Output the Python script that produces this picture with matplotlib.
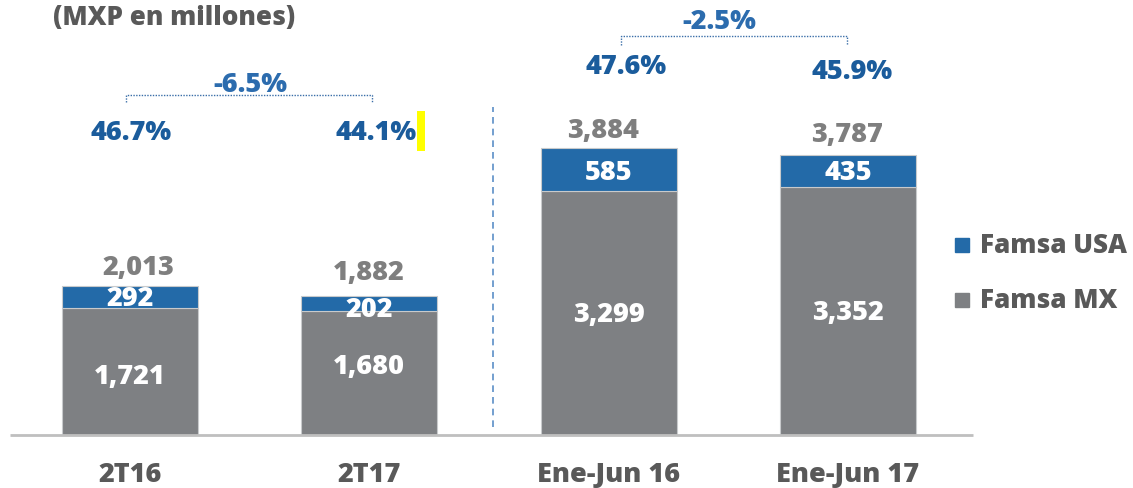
import matplotlib
matplotlib.use("Agg")
import matplotlib.pyplot as plt
from matplotlib.patches import Rectangle

plt.rcParams['font.family'] = ['Open Sans', 'DejaVu Sans']
plt.rcParams['font.weight'] = 'bold'

categories = ["2T16", "2T17", "Ene-Jun 16", "Ene-Jun 17"]
famsa_mx = [1721, 1680, 3299, 3352]
famsa_usa = [292, 202, 585, 435]
totals = [2013, 1882, 3884, 3787]
shares = ["46.7%", "44.1%", "47.6%", "45.9%"]
changes = ["-6.5%", "-2.5%"]
title = "(MXP en millones)"

BLUE = "#236AA8"
GRAY = "#7E8083"
PCT = "#1B5C9C"
CHG = "#2C6CAE"
TXT = "#595959"
TOT = "#7F7F7F"
WGT = 800

W, H = 1133, 489
fig = plt.figure(figsize=(W / 100, H / 100), dpi=100)
ax = fig.add_axes([0, 0, 1, 1])

sp = 239.3
x0 = 130 / sp
xs = [i for i in range(len(categories))]
ax.set_xlim(-x0, (W - 130) / sp)
upp = 13.53  # data units per pixel
ax.set_ylim(-(H - 436) * upp, 436 * upp)
ax.axis('off')

bw = 136 / sp
ax.bar(xs, famsa_mx, width=bw, color=GRAY, edgecolor="#C8CACC", linewidth=0.8, zorder=2)
ax.bar(xs, famsa_usa, width=bw, bottom=famsa_mx, color=BLUE, edgecolor="#C8CACC", linewidth=0.8, zorder=2)

# baseline
ax.plot([(10 - 130) / sp, (973 - 130) / sp], [0, 0], color="#BFBFBF", lw=2, zorder=3, solid_capstyle='butt')

# separator
ax.plot([(493 - 130) / sp] * 2, [(436 - 428) * upp, (436 - 108) * upp], color="#5B8FC7",
        lw=1.2, ls=(0, (4, 3)), zorder=1)

fs = 19.5
# inner labels
mx_y = [377, 367, 315, 313]
usa_y = [299, 310, 173, 173]
for i in range(len(categories)):
    ax.text(xs[i], (436 - mx_y[i]) * upp, f"{famsa_mx[i]:,}", ha='center', va='center',
            color='white', fontsize=fs, fontweight=WGT, zorder=4)
    ax.text(xs[i], (436 - usa_y[i]) * upp, f"{famsa_usa[i]:,}", ha='center', va='center',
            color='white', fontsize=fs, fontweight=WGT, zorder=4)

# totals
tot_pos = [(138, 268), (369, 273), (603, 131), (847, 135)]
for i, (px, py) in enumerate(tot_pos):
    ax.text((px - 130) / sp, (436 - py) * upp, f"{totals[i]:,}", ha='center', va='center',
            color=TOT, fontsize=fs, fontweight=WGT)

# shares
sh_pos = [(131, 133), (376, 133), (626, 67), (852, 72)]
for i, (px, py) in enumerate(sh_pos):
    ax.text((px - 130) / sp, (436 - py) * upp, shares[i], ha='center', va='center',
            color=PCT, fontsize=fs, fontweight=WGT)

# yellow marker
ax.add_patch(Rectangle(((417 - 130) / sp, (436 - 152) * upp), 8 / sp, 40 * upp,
                       color="#FFFF00", lw=0, zorder=3))

# brackets
def bracket(xa, xb, ytop, ybot):
    xa_d, xb_d = (xa - 130) / sp, (xb - 130) / sp
    yt, yb = (436 - ytop) * upp, (436 - ybot) * upp
    ax.plot([xa_d, xa_d, xb_d, xb_d], [yb, yt, yt, yb], color="#3A6EA8", lw=1.0,
            ls=(0, (1, 1)), zorder=3)

bracket(126, 372, 96, 103)
bracket(621, 847, 37, 46)
ax.text((250 - 130) / sp, (436 - 85) * upp, changes[0], ha='center', va='center',
        color=CHG, fontsize=fs, fontweight=WGT)
ax.text((719 - 130) / sp, (436 - 22) * upp, changes[1], ha='center', va='center',
        color=CHG, fontsize=fs, fontweight=WGT)

# x labels
for i, c in enumerate(categories):
    ax.text(xs[i], (436 - 475) * upp, c, ha='center', va='center', color=TXT,
            fontsize=fs, fontweight=WGT)

# title
fig.text(53 / W, 1 - 18 / H, title, ha='left', va='center', color=TXT, fontsize=18.8,
         fontweight=WGT)

# legend
for (lab, col, cy) in [("Famsa USA", BLUE, 246), ("Famsa MX", GRAY, 301)]:
    fig.patches.append(Rectangle((955 / W, 1 - (cy + 7) / H), 14 / W, 14 / H, color=col,
                                 transform=fig.transFigure, figure=fig))
    fig.text(980 / W, 1 - cy / H, lab, ha='left', va='center', color=TXT, fontsize=18.8,
             fontweight=WGT)

fig.savefig("out.png", dpi=100)
